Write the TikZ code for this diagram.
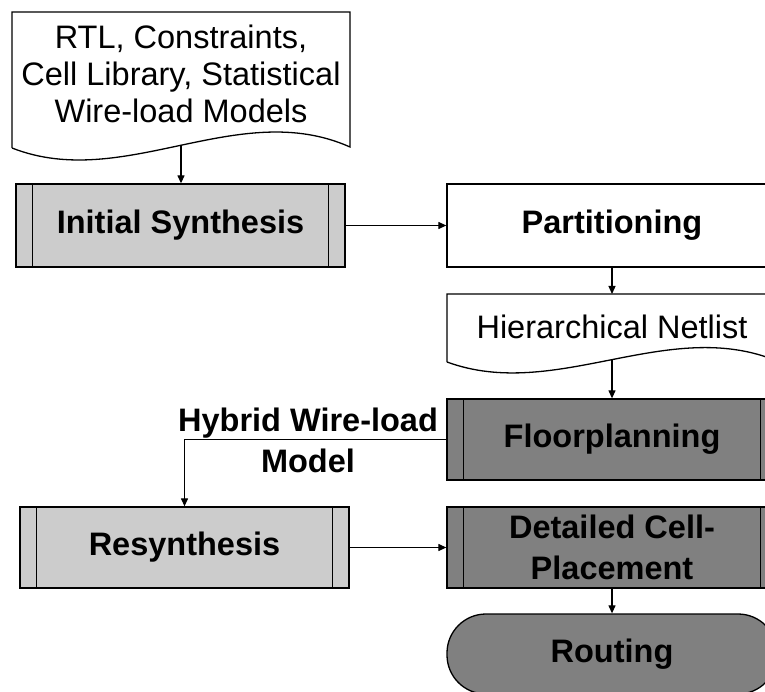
\documentclass[tikz,border=0pt]{standalone}
\usepackage{fontspec}
\setmainfont{Liberation Sans}
\usetikzlibrary{arrows.meta}
\definecolor{lightg}{HTML}{CCCCCC}
\definecolor{darkg}{HTML}{808080}
\begin{document}
\begin{tikzpicture}[x=1pt,y=-1pt,
  line width=1.3pt,
  arr/.style={-{Triangle[length=8pt,width=7pt]}, line width=1.2pt},
  procbox/.style={draw, minimum width=330pt, minimum height=82pt, inner sep=0pt,
    font=\bfseries\fontsize{32.5}{41}\selectfont, align=center},
  lightbox/.style={procbox, fill=lightg},
  darkbox/.style={procbox, fill=darkg},
  doctext/.style={inner sep=0pt, align=center, font=\fontsize{32.5}{37}\selectfont},
  labeltext/.style={inner sep=0pt, align=center, font=\bfseries\fontsize{32.5}{41}\selectfont},
  docshape/.style={draw, fill=white}
]
\useasboundingbox (0,0) rectangle (765,692);
\clip (0,0) rectangle (765,692);

% top document
\draw[docshape] (12,148) -- (12,12) -- (350,12) -- (350,147)
  .. controls (238,97) and (124,192) .. (12,148) coordinate[pos=0.5] (d1out);
\node[doctext] (doc1) at (181,74) {RTL, Constraints,\\Cell Library, Statistical\\Wire-load Models};

% process boxes
\node[lightbox, minimum width=329pt, minimum height=83pt] (IS) at (180.5,225.5) {Initial Synthesis};
\node[procbox, minimum height=83pt] (PA) at (612,225.5) {Partitioning};

% hierarchical netlist document
\draw[docshape] (447,362) -- (447,294) -- (777,294) -- (777,361)
  .. controls (668,316) and (556,402) .. (447,362) coordinate[pos=0.5] (hnout);
\coordinate (hntop) at (612,294);
\node[doctext] (HN) at (612,327) {Hierarchical Netlist};

\node[darkbox, minimum height=81pt] (FP) at (612,439.5) {Floorplanning};
\node[lightbox, minimum width=329pt, minimum height=81pt] (RS) at (184.5,547.5) {Resynthesis};
\node[darkbox, minimum height=81pt] (DCP) at (612,547.5) {Detailed Cell-\\Placement};
\node[draw, fill=darkg, rounded corners=39pt, minimum width=330pt, minimum height=80pt,
  inner sep=0pt, font=\bfseries\fontsize{32.5}{41}\selectfont] (RO) at (612,654) {Routing};

% inner lines of predefined process boxes
\foreach \n in {IS,RS,FP,DCP}
  \draw ([xshift=17pt]\n.north west) -- ([xshift=17pt]\n.south west)
        ([xshift=-17pt]\n.north east) -- ([xshift=-17pt]\n.south east);

% connectors
\draw[arr] (d1out) -- (d1out |- IS.north);
\draw[arr] (IS.east) -- (PA.west);
\draw[arr] (PA.south) -- (hntop);
\draw[arr] (hnout) -- (hnout |- FP.north);
\draw[arr] (FP.west) -| (RS.north);
\node[labeltext] (HL) at (308,440) {Hybrid Wire-load\\Model};
\draw[arr] (RS.east) -- (DCP.west);
\draw[arr] (DCP.south) -- (RO.north);
\end{tikzpicture}
\end{document}
